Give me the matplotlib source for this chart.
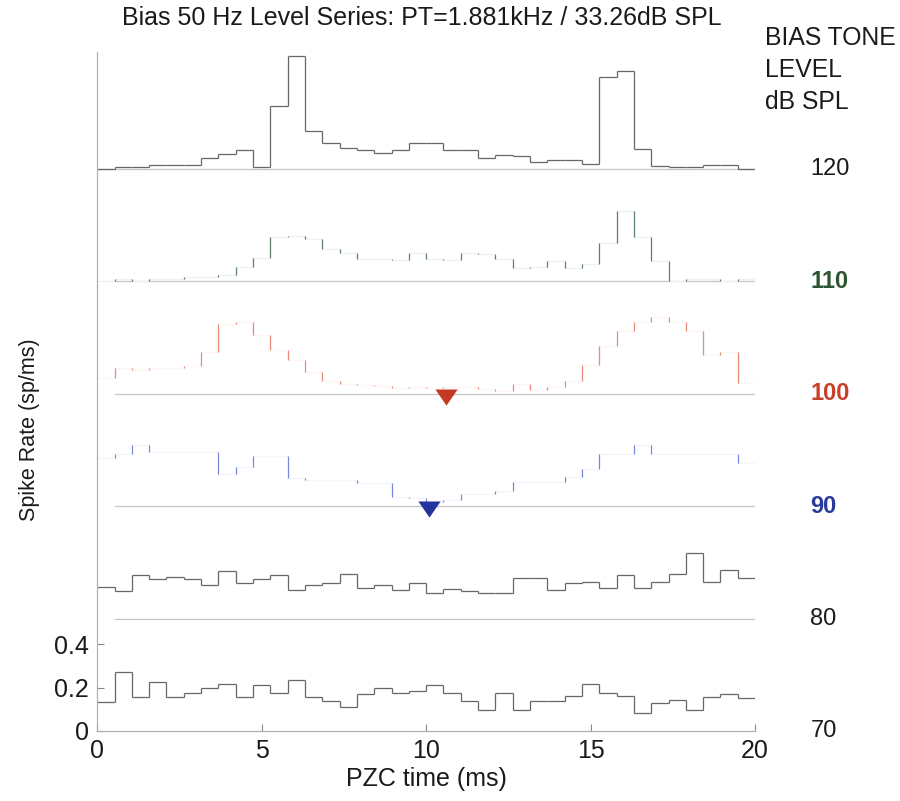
import numpy as np
import matplotlib
matplotlib.use('Agg')
import matplotlib.pyplot as plt

plt.rcParams['font.family'] = ['Liberation Sans', 'DejaVu Sans']

# period histogram bins: 38 bins over one 20 ms cycle
n_bins = 38
bin_edges = np.arange(n_bins + 1) * 20.0 / n_bins

levels = [120, 110, 100, 90, 80, 70]

rate_120 = [0.0, 0.008, 0.008, 0.017, 0.017, 0.017, 0.051, 0.066, 0.088, 0.005,
            0.29, 0.52, 0.175, 0.12, 0.094, 0.085, 0.074, 0.085, 0.12, 0.12,
            0.085, 0.085, 0.048, 0.063, 0.056, 0.031, 0.04, 0.04, 0.02, 0.425,
            0.45, 0.09, 0.012, 0.005, 0.005, 0.016, 0.016, 0.0]
rate_110 = [0.0, 0.008, 0.0, 0.011, 0.011, 0.02, 0.02, 0.026, 0.066, 0.108,
            0.205, 0.21, 0.196, 0.147, 0.131, 0.103, 0.103, 0.097, 0.131, 0.103,
            0.097, 0.131, 0.123, 0.1, 0.059, 0.066, 0.093, 0.059, 0.077, 0.177,
            0.324, 0.204, 0.093, 0.0, 0.008, 0.008, 0.0, 0.008]
rate_100 = [0.07, 0.12, 0.11, 0.12, 0.12, 0.125, 0.19, 0.32, 0.33, 0.27,
            0.2, 0.155, 0.1, 0.06, 0.045, 0.04, 0.035, 0.025, 0.03, 0.025,
            0.03, 0.03, 0.022, 0.01, 0.045, 0.015, 0.03, 0.06, 0.13, 0.22,
            0.29, 0.33, 0.355, 0.33, 0.29, 0.18, 0.19, 0.05]
rate_90 = [0.22, 0.24, 0.28, 0.25, 0.25, 0.25, 0.25, 0.15, 0.18, 0.23,
           0.23, 0.13, 0.12, 0.12, 0.12, 0.105, 0.105, 0.04, 0.035, 0.02,
           0.03, 0.055, 0.055, 0.07, 0.11, 0.11, 0.11, 0.135, 0.17, 0.24,
           0.24, 0.28, 0.24, 0.24, 0.24, 0.24, 0.24, 0.2]
rate_80 = [0.145, 0.127, 0.2, 0.184, 0.191, 0.184, 0.153, 0.219, 0.165, 0.184,
           0.199, 0.134, 0.153, 0.165, 0.208, 0.142, 0.153, 0.134, 0.165, 0.116,
           0.137, 0.127, 0.119, 0.119, 0.188, 0.188, 0.134, 0.165, 0.17, 0.142,
           0.199, 0.142, 0.17, 0.208, 0.304, 0.17, 0.224, 0.188]
rate_70 = [0.133, 0.273, 0.156, 0.227, 0.156, 0.175, 0.2, 0.219, 0.156, 0.211,
           0.175, 0.238, 0.156, 0.14, 0.11, 0.169, 0.2, 0.175, 0.184, 0.211,
           0.175, 0.138, 0.098, 0.175, 0.098, 0.138, 0.138, 0.164, 0.219, 0.175,
           0.164, 0.081, 0.128, 0.145, 0.098, 0.156, 0.172, 0.153]

rates = [rate_120, rate_110, rate_100, rate_90, rate_80, rate_70]

# phase marker (ms) on the 100 and 90 dB traces
marker_level = [100, 90]
marker_ms = [10.6, 10.1]

spacing = 0.52

# (horizontal colour, vertical colour, label colour, label weight)
styles = {
    120: ('#666666', '#666666', '#1a1a1a', 'normal'),
    110: ('#eef2ee', '#5a8066', '#2c5430', 'bold'),
    100: ('#fdf4f3', '#ea8a78', '#c8402a', 'bold'),
    90:  ('#f3f4fc', '#7888dc', '#2a3a9a', 'bold'),
    80:  ('#666666', '#666666', '#1a1a1a', 'normal'),
    70:  ('#666666', '#666666', '#1a1a1a', 'normal'),
}
marker_color = {100: '#c23a22', 90: '#23359a'}

fig = plt.figure(figsize=(9, 8.01), dpi=100)
ax = fig.add_axes([0.108, 0.0874, 0.731, 0.848])

for i, (lev, r) in enumerate(zip(levels, rates)):
    off = (len(levels) - 1 - i) * spacing
    r = np.array(r) + off
    hcol, vcol, tcol, weight = styles[lev]
    # zero line of each trace
    if lev != 70:
        x0 = 0.0 if lev == 120 else bin_edges[1]
        ax.plot([x0, 20], [off, off], color='#c4c4c4', lw=0.9, zorder=1)
    ax.hlines(r, bin_edges[:-1], bin_edges[1:], color=hcol, lw=0.9, zorder=2)
    ax.vlines(bin_edges[1:-1], r[:-1], r[1:], color=vcol, lw=0.9, zorder=2)
    ax.text(1.084, off, str(lev), transform=ax.get_yaxis_transform(),
            ha='left', va='center', fontsize=17, color=tcol, fontweight=weight)

tri = [(-1, 0.45), (1, 0.45), (0, -1.0)]
for lev, t in zip(marker_level, marker_ms):
    off = (len(levels) - 1 - levels.index(lev)) * spacing
    ax.plot([t], [off], marker=tri, markersize=16, color=marker_color[lev],
            markeredgewidth=0, linestyle='none', zorder=4)

ax.set_xlim(0, 20)
ax.set_ylim(0, 3.14)
ax.set_xticks([0, 5, 10, 15, 20])
ax.set_yticks([0, 0.2, 0.4])
ax.set_yticklabels(['0', '0.2', '0.4'])
ax.tick_params(direction='in', length=5, width=0.8, color='#888888',
               labelsize=18, labelcolor='#1a1a1a', pad=6)
for s in ['top', 'right']:
    ax.spines[s].set_visible(False)
for s in ['left', 'bottom']:
    ax.spines[s].set_color('#b0b0b0')
    ax.spines[s].set_linewidth(0.9)

ax.set_xlabel('PZC time (ms)', fontsize=18, color='#1a1a1a', labelpad=3)
ax.set_ylabel('Spike Rate (sp/ms)', fontsize=15.5, color='#1a1a1a')
ax.yaxis.set_label_coords(-0.087, 0.443)

fig.text(0.469, 0.977, 'Bias 50 Hz Level Series: PT=1.881kHz / 33.26dB SPL',
         ha='center', va='center', fontsize=18, color='#1a1a1a')
fig.text(0.85, 0.967, 'BIAS TONE\nLEVEL\ndB SPL', ha='left', va='top',
         fontsize=17.8, color='#1a1a1a', linespacing=1.42)

fig.savefig('out.png', dpi=100)
